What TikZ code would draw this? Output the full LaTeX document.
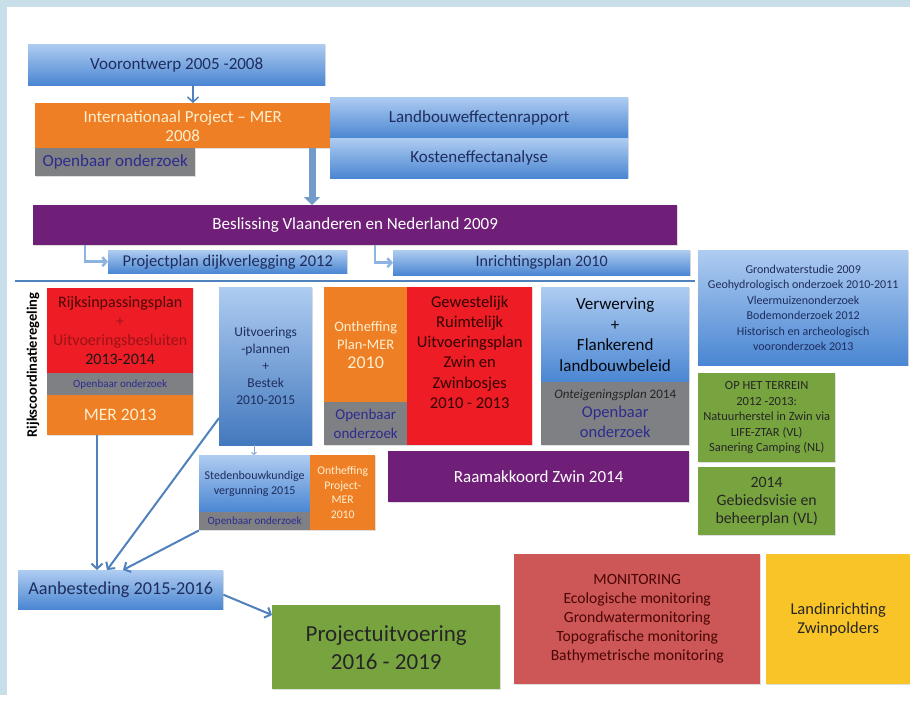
\documentclass[tikz,border=0pt]{standalone}
\usepackage{fontspec}
\setmainfont{Carlito}
\usetikzlibrary{arrows.meta,shadows}

\definecolor{bgstrip}{HTML}{C8DFE9}
\definecolor{bluetop}{HTML}{AECCF1}
\definecolor{bluebot}{HTML}{4A86D2}
\definecolor{navy}{HTML}{1F2D5E}
\definecolor{ooblue}{HTML}{2E2B8F}
\definecolor{mango}{HTML}{EF7F24}
\definecolor{slate}{HTML}{7F8083}
\definecolor{brightred}{HTML}{EE1D25}
\definecolor{plum}{HTML}{6F1F77}
\definecolor{grass}{HTML}{77A43F}
\definecolor{rosered}{HTML}{CD5656}
\definecolor{sun}{HTML}{F8C427}
\definecolor{arrowblue}{HTML}{4F81BD}
\definecolor{lightarrow}{HTML}{8DB3E2}
\definecolor{cream}{HTML}{FCEFD0}
\definecolor{darkred}{HTML}{4A0606}

\tikzset{
  box/.style={anchor=north west, inner sep=0pt, align=center,
    drop shadow={shadow xshift=1.2pt, shadow yshift=-1.2pt, opacity=.25}},
  bluebox/.style={box, top color=bluetop, bottom color=bluebot, text=navy},
  orangebox/.style={box, fill=mango, text=cream},
  graybox/.style={box, fill=slate, text=ooblue},
  redbox/.style={box, fill=brightred, text=darkred},
  purplebox/.style={box, fill=plum, text=white},
  greenbox/.style={box, fill=grass, text=black!85},
  arr/.style={draw=arrowblue, line width=2pt, -{Straight Barb[length=5pt,width=11pt]}},
  elbow/.style={draw=lightarrow, line width=2.5pt, -{Straight Barb[length=4pt,width=9pt]}},
}

\begin{document}
\begin{tikzpicture}[x=1pt,y=-1pt]
\useasboundingbox[fill=white] (0,0) rectangle (910,705);
\fill[bgstrip] (0,0) rectangle (910,7);
\fill[bgstrip] (0,0) rectangle (7,695);

% top part
\node[bluebox, minimum width=297pt, minimum height=41pt, font=\fontsize{17}{19}\selectfont] (voor) at (28,44) {Voorontwerp 2005 -2008};
\node[orangebox, minimum width=295pt, minimum height=45pt, font=\fontsize{17}{19}\selectfont] (intl) at (35,103) {Internationaal Project -- MER\\2008};
\node[graybox, minimum width=160pt, minimum height=28pt, font=\fontsize{17}{19}\selectfont] (oo1) at (35,148) {Openbaar onderzoek};
\node[bluebox, minimum width=298pt, minimum height=41pt, font=\fontsize{17}{19}\selectfont] (lber) at (330,97) {Landbouweffectenrapport};
\node[bluebox, minimum width=298pt, minimum height=40pt, font=\fontsize{17}{19}\selectfont] (kea) at (330,138) {Kosteneffectanalyse};
\node[purplebox, minimum width=644pt, minimum height=40pt, font=\fontsize{17}{19}\selectfont] (besl) at (33,205) {Beslissing Vlaanderen en Nederland 2009};
\node[bluebox, minimum width=239pt, minimum height=23pt, font=\fontsize{16.5}{18}\selectfont] (ppd) at (108,250) {Projectplan dijkverlegging 2012};
\node[bluebox, minimum width=297pt, minimum height=25pt, font=\fontsize{16}{18}\selectfont] (inr) at (393,250) {Inrichtingsplan 2010};
\node[bluebox, minimum width=210pt, minimum height=115pt, font=\fontsize{12}{15.5}\selectfont] (grw) at (698,250) {Grondwaterstudie 2009\\Geohydrologisch onderzoek 2010-2011\\Vleermuizenonderzoek\\Bodemonderzoek 2012\\Historisch en archeologisch\\vooronderzoek 2013};

\draw[arr, line width=1.5pt] ([xshift=165pt]voor.south west) -- ([xshift=158pt]intl.north west);
\draw[draw=arrowblue!80, line width=7pt, -{Triangle[width=16pt,length=8pt]}] ([xshift=277pt]intl.south west) -- ([xshift=279pt]besl.north west);
\draw[elbow] ([xshift=52pt]besl.south west) |- (ppd.west);
\draw[elbow] ([xshift=342pt]besl.south west) |- (inr.west);

\draw[arrowblue, line width=2pt] (15,281) -- (695,281);

% middle part
\node[rotate=90, font=\fontsize{14.5}{16}\bfseries] (rcr) at (33,365) {Rijkscoordinatieregeling};
\node[redbox, minimum width=146pt, minimum height=85pt, font=\fontsize{16}{19}\selectfont] (rip) at (47,288) {\textcolor{darkred}{Rijksinpassingsplan}\\\textcolor{brightred!70!black}{+}\\\textcolor{brightred!65!black}{Uitvoeringsbesluiten}\\\textcolor{black!90}{2013-2014}};
\node[graybox, minimum width=146pt, minimum height=22pt, font=\fontsize{11}{12}\selectfont] (oo2) at (47,373) {Openbaar onderzoek};
\node[orangebox, minimum width=146pt, minimum height=40pt, font=\fontsize{17.5}{19}\selectfont] (mer13) at (47,395) {MER 2013};

\node[bluebox, minimum width=93pt, minimum height=158pt, bottom color=bluebot!90!black, font=\fontsize{13.5}{17}\selectfont] (uitv) at (219,287) {Uitvoerings\\-plannen\\+\\Bestek\\2010-2015};

\node[orangebox, minimum width=83pt, minimum height=115pt, font=\fontsize{14.5}{18.5}\selectfont] (opm) at (324,287) {Ontheffing\\Plan-MER\\{\fontsize{18}{19}\selectfont 2010}};
\node[graybox, minimum width=83pt, minimum height=43pt, font=\fontsize{15}{19}\selectfont] (oo3) at (324,402) {Openbaar\\onderzoek};
\node[redbox, minimum width=125pt, minimum height=158pt, text=black!80!red, font=\fontsize{16.5}{20.2}\selectfont] (grup) at (407,287) {Gewestelijk\\Ruimtelijk\\Uitvoeringsplan\\Zwin en\\Zwinbosjes\\2010 - 2013\\[8pt]};

\node[bluebox, minimum width=148pt, minimum height=95pt, text=black!85!navy, font=\fontsize{17}{20.5}\selectfont] (verw) at (541,287) {Verwerving\\+\\Flankerend\\landbouwbeleid};
\node[graybox, minimum width=148pt, minimum height=63pt, font=\fontsize{16.5}{20.5}\selectfont] (oo4) at (541,382) {{\fontsize{13}{14}\selectfont\color{black!85}\textit{Onteigeningsplan} 2014}\\[-2pt]Openbaar\\onderzoek};

\node[greenbox, minimum width=137pt, minimum height=89pt, font=\fontsize{12.5}{15.5}\selectfont] (terr) at (698,373) {OP HET TERREIN\\2012 -2013:\\Natuurherstel in Zwin via\\LIFE-ZTAR (VL)\\Sanering Camping (NL)};
\node[greenbox, minimum width=137pt, minimum height=68pt, font=\fontsize{15.8}{18}\selectfont] (gbv) at (698,467) {2014\\Gebiedsvisie en\\beheerplan (VL)};
\node[purplebox, minimum width=301pt, minimum height=51pt, font=\fontsize{17}{19}\selectfont] (raam) at (388,451) {Raamakkoord Zwin 2014};

\node[bluebox, minimum width=111pt, minimum height=57pt, font=\fontsize{12}{15}\selectfont] (sted) at (199,455) {Stedenbouwkundige\\vergunning 2015};
\node[graybox, minimum width=111pt, minimum height=18pt, font=\fontsize{11}{12}\selectfont] (oo5) at (199,512) {Openbaar onderzoek};
\node[orangebox, minimum width=65pt, minimum height=75pt, font=\fontsize{11.7}{14.5}\selectfont] (oppm) at (310,455) {Ontheffing\\Project-\\MER\\2010};

\draw[arrowblue!70, line width=1pt, -{Straight Barb[length=2pt,width=5pt]}] ([xshift=35pt]uitv.south west) -- ([xshift=55pt]sted.north west);

% bottom part
\node[bluebox, minimum width=205pt, minimum height=39pt, font=\fontsize{18.2}{20}\selectfont] (aanb) at (18,570) {Aanbesteding 2015-2016};
\node[greenbox, minimum width=228pt, minimum height=84pt, font=\fontsize{23}{28}\selectfont] (pu) at (272,605) {Projectuitvoering\\2016 - 2019};
\node[box, fill=rosered, text=darkred, minimum width=246pt, minimum height=130pt, font=\fontsize{15.6}{19}\selectfont] (mon) at (514,554) {MONITORING\\Ecologische monitoring\\Grondwatermonitoring\\Topografische monitoring\\Bathymetrische monitoring};
\node[box, fill=sun, text=black!85, minimum width=144pt, minimum height=130pt, font=\fontsize{16.5}{19}\selectfont] (lir) at (766,554) {Landinrichting\\Zwinpolders};

\draw[arr] ([xshift=50pt]mer13.south west) -- ([xshift=79pt]aanb.north west);
\draw[arr] (uitv.228) -- ([xshift=89pt]aanb.north west);
\draw[arr] (oo5.south west) -- ([xshift=105pt]aanb.north west);
\draw[arr] ([yshift=-5pt]aanb.east) -- ([yshift=-10pt]pu.north west);
\end{tikzpicture}
\end{document}
